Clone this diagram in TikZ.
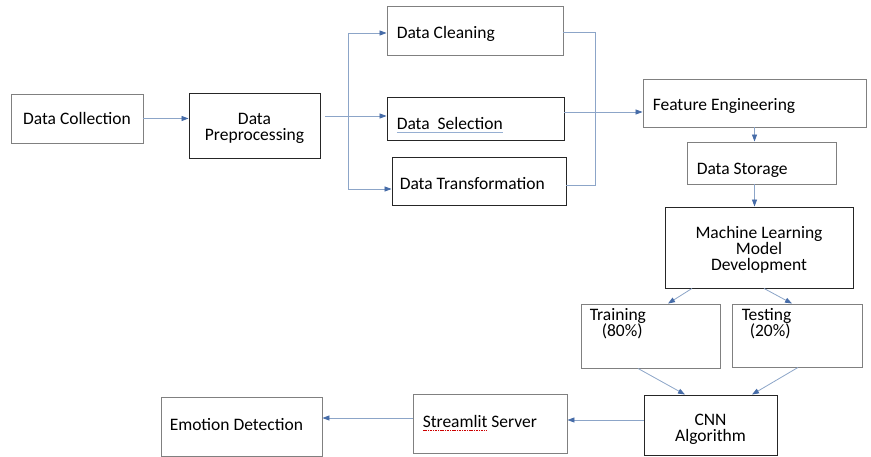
\documentclass[tikz,border=0pt]{standalone}
\usepackage{fontspec}
\setmainfont{Carlito}
\usetikzlibrary{arrows.meta,positioning,calc}

\definecolor{flowline}{RGB}{140,165,200}
\definecolor{flowtip}{RGB}{70,108,168}
\definecolor{grammarblue}{RGB}{150,175,210}

% word-style underlines
\newsavebox\markbox
\newcommand{\spellmark}[1]{\sbox\markbox{#1}\rlap{\textcolor{red!80!black}{\hbox to \wd\markbox{\xleaders\hbox{\rule[-3.5pt]{1.1pt}{0.7pt}\kern0.6pt}\hfill}}}\usebox\markbox}
\newcommand{\grammarmark}[1]{\sbox\markbox{#1}\rlap{\textcolor{grammarblue}{\rule[-2.5pt]{\wd\markbox}{0.9pt}}}\usebox\markbox}

\tikzset{
  stage/.style={draw=black!50, line width=0.9pt, inner sep=0pt, align=center},
  stagedark/.style={stage, draw=black!85},
  boxsize/.style 2 args={minimum width=#1pt, minimum height=#2pt},
  inlabel/.style={anchor=west, inner xsep=10pt, inner ysep=0pt, text height=20pt, text depth=4pt},
  midlabel/.style={anchor=center, inner sep=0pt, align=center, yshift=-3pt},
  toplabel/.style={anchor=north west, inner xsep=9pt, inner ysep=5pt, align=left},
  flow/.style={draw=flowline, line width=0.8pt, -{Triangle[length=7pt,width=5pt,color=flowtip]}},
  bus/.style={draw=flowline, line width=0.8pt}
}

\begin{document}
\begin{tikzpicture}[x=1pt, y=-1pt, font=\fontsize{17.5}{16}\selectfont]
      \fill[white] (0,0) rectangle (871,457);
      \useasboundingbox (0,0) rectangle (871,457);

      \node[stage, boxsize={132}{49}] (DataCol) at (77,118.5) {Data Collection};
      \node[stagedark, boxsize={131}{65}, label={[midlabel]center:Data\\Preprocessing}] (DataPre) at (254.5,125.5) {};

      \node[stage, boxsize={176}{49}, label={[inlabel]west:Data Cleaning}] (DataClean) at (475,30.5) {};
      \node[stagedark, boxsize={177}{43}, label={[inlabel,yshift=-3.5pt]west:\grammarmark{Data\ \ Selection}}] (DataSel) at (475.5,118.5) {};
      \node[stagedark, boxsize={174}{48}, label={[inlabel,inner xsep=8pt,yshift=-1pt]west:Data Transformation}] (DataTrans) at (479,181) {};

      \node[stage, boxsize={223}{48}, label={[inlabel]west:Feature Engineering}] (FeatEng) at (754.5,103) {};
      \node[stage, boxsize={149}{42}, label={[inlabel,yshift=-4pt]west:Data Storage}] (DataStore) at (761.5,163) {};
      \node[stagedark, boxsize={188}{81}, label={[midlabel,yshift=1pt]center:Machine Learning\\Model\\Development}] (MLDev) at (759,247.5) {};

      \node[stage, boxsize={139}{64}, label={[toplabel]north west:Training\\\hspace*{12pt}(80\%)}] (Train) at (650.5,336) {};
      \node[stage, boxsize={130}{63}, label={[toplabel,inner xsep=10pt]north west:Testing\\\hspace*{8pt}(20\%)}] (Test) at (797,335.5) {};
      \node[stagedark, boxsize={133}{60}, label={[midlabel,yshift=-1pt]center:CNN\\Algorithm}] (CNN) at (710.5,425) {};

      \node[stage, boxsize={154}{59}, label={[inlabel,yshift=4.5pt]west:\spellmark{Streamlit} Server}] (Stream) at (490,423.5) {};
      \node[stage, boxsize={161}{59}, label={[inlabel,inner xsep=9pt,yshift=4.5pt]west:Emotion Detection}] (Emotion) at (241.5,426.5) {};

      \coordinate (forkTop) at (348,33);
      \coordinate (forkMid) at (348,116);
      \coordinate (forkBot) at (348,189);
      \coordinate (joinTop) at (595,32);
      \coordinate (joinBot) at (595,185);

      \draw[flow] (DataCol.east) -- (DataCol.east -| DataPre.west);

      \draw[flow, shorten <=5pt] (DataPre.east |- forkMid) -- (forkMid -| DataSel.west);
      \draw[bus] (forkTop) -- (forkBot);
      \draw[flow] (forkTop) -- (forkTop -| DataClean.west);
      \draw[flow] (forkBot) -- (forkBot -| DataTrans.west);

      \draw[bus] (DataClean.east |- joinTop) -- (joinTop) -- (joinBot) -- (DataTrans.east |- joinBot);
      \draw[flow] ([yshift=6.5pt]DataSel.east) -- ([yshift=6.5pt]DataSel.east -| FeatEng.west);

      \draw[flow] (FeatEng.south) -- (FeatEng.south |- DataStore.north);
      \draw[flow] (DataStore.south -| FeatEng.south) -- (FeatEng.south |- MLDev.north);

      \draw[flow] ([xshift=-67pt]MLDev.south) -- ([xshift=17.5pt]Train.north);
      \draw[flow] ([xshift=5pt]MLDev.south) -- ([xshift=-5pt]Test.north);
      \draw[flow] ([xshift=-12.5pt]Train.south) -- ([xshift=-25.5pt]CNN.north);
      \draw[flow] ([xshift=1pt]Test.south) -- ([xshift=41.5pt]CNN.north);

      \draw[flow] ([yshift=5pt]CNN.west) -- ([yshift=5pt]CNN.west -| Stream.east);
      \draw[flow] ([yshift=5.5pt]Stream.west) -- ([yshift=5.5pt]Stream.west -| Emotion.east);
\end{tikzpicture}
\end{document}
